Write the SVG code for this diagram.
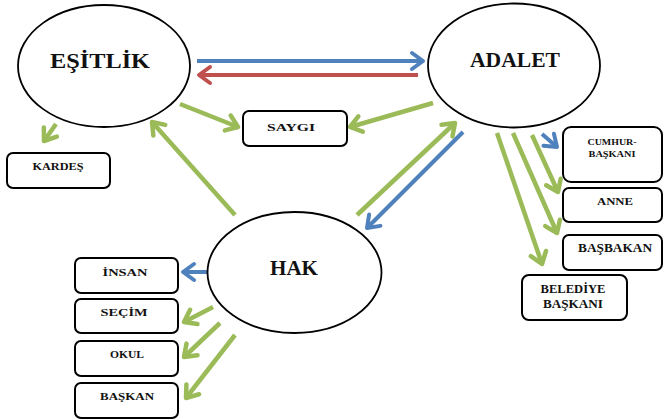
<svg xmlns="http://www.w3.org/2000/svg" width="663" height="420" viewBox="0 0 663 420">
<style>
.ell{fill:#fff;stroke:#000;stroke-width:1.8}
.box{fill:#fff;stroke:#000;stroke-width:2}
text{font-family:'Liberation Serif','Times New Roman',serif;font-weight:bold;fill:#111}
.big{font-size:20px}
.lbl{font-size:10.5px}
.g{stroke:#9bbb59;stroke-width:4.5;fill:none;marker-end:url(#ag)}
.b{stroke:#4f81bd;stroke-width:4;fill:none;marker-end:url(#ab)}
.r{stroke:#c0504d;stroke-width:4;fill:none;marker-end:url(#ar)}
</style>
<defs>
<marker id="ag" viewBox="-15 -11 18 22" refX="0" refY="0" markerWidth="18" markerHeight="22" markerUnits="userSpaceOnUse" orient="auto" overflow="visible"><path d="M-11,-8 L0,0 L-11,8" fill="none" stroke="#9bbb59" stroke-width="4.5" stroke-linecap="round" stroke-linejoin="round"/></marker>
<marker id="ab" viewBox="-15 -11 18 22" refX="0" refY="0" markerWidth="18" markerHeight="22" markerUnits="userSpaceOnUse" orient="auto" overflow="visible"><path d="M-11,-8 L0,0 L-11,8" fill="none" stroke="#4f81bd" stroke-width="4" stroke-linecap="round" stroke-linejoin="round"/></marker>
<marker id="ar" viewBox="-15 -11 18 22" refX="0" refY="0" markerWidth="18" markerHeight="22" markerUnits="userSpaceOnUse" orient="auto" overflow="visible"><path d="M-11,-8 L0,0 L-11,8" fill="none" stroke="#c0504d" stroke-width="4" stroke-linecap="round" stroke-linejoin="round"/></marker>
</defs>
<rect width="663" height="420" fill="#fff"/>

<g id="connectors">
<line class="b" x1="197" y1="61" x2="423" y2="61"/>
<line class="r" x1="418" y1="75" x2="199" y2="75"/>
<line class="g" x1="180" y1="104" x2="238" y2="127"/>
<line class="g" x1="56" y1="124" x2="44" y2="141"/>
<line class="g" x1="235" y1="215" x2="152" y2="122"/>
<line class="g" x1="433" y1="103" x2="350" y2="127"/>
<line class="g" x1="357" y1="215" x2="455" y2="123"/>
<line class="b" x1="463" y1="132" x2="367" y2="228"/>
<line class="b" x1="542" y1="134" x2="557" y2="147"/>
<line class="g" x1="532" y1="135" x2="558" y2="192"/>
<line class="g" x1="513" y1="133" x2="557" y2="233"/>
<line class="g" x1="497" y1="133" x2="542" y2="264"/>
<line class="b" x1="207" y1="272" x2="183" y2="272"/>
<line class="g" x1="213" y1="307" x2="184" y2="322"/>
<line class="g" x1="220" y1="323" x2="184" y2="357"/>
<line class="g" x1="235" y1="335" x2="186" y2="398"/>
</g>

<g id="esitlik"><ellipse class="ell" cx="104" cy="66" rx="86" ry="61"/><text class="big" x="100" y="68" text-anchor="middle" textLength="100" lengthAdjust="spacingAndGlyphs">EŞİTLİK</text></g>
<g id="adalet"><ellipse class="ell" cx="514" cy="65.5" rx="86" ry="62"/><text class="big" x="515" y="67" text-anchor="middle" textLength="90" lengthAdjust="spacingAndGlyphs">ADALET</text></g>
<g id="hak"><ellipse class="ell" cx="294.5" cy="272.5" rx="87" ry="60.5"/><text class="big" x="294" y="275" text-anchor="middle" textLength="48" lengthAdjust="spacingAndGlyphs">HAK</text></g>

<g id="kardes"><rect class="box" x="7" y="153" width="103" height="35" rx="6"/><text class="lbl" x="58" y="170" text-anchor="middle" textLength="51" lengthAdjust="spacingAndGlyphs">KARDEŞ</text></g>
<g id="saygi"><rect class="box" x="243" y="111" width="104" height="35" rx="6"/><text class="lbl" x="291" y="131" text-anchor="middle" textLength="48" lengthAdjust="spacingAndGlyphs">SAYGI</text></g>
<g id="cumhurbaskani"><rect class="box" x="563" y="127" width="99" height="55" rx="8"/><text class="lbl" style="font-size:8px" x="612" y="145" text-anchor="middle" textLength="49" lengthAdjust="spacingAndGlyphs">CUMHUR-</text><text class="lbl" style="font-size:8px" x="612" y="157" text-anchor="middle" textLength="47" lengthAdjust="spacingAndGlyphs">BAŞKANI</text></g>
<g id="anne"><rect class="box" x="563" y="188" width="99" height="34" rx="6"/><text class="lbl" style="font-size:11px" x="615" y="205" text-anchor="middle" textLength="36" lengthAdjust="spacingAndGlyphs">ANNE</text></g>
<g id="basbakan"><rect class="box" x="563" y="235" width="99" height="35" rx="6"/><text class="lbl" style="font-size:12px" x="615" y="252" text-anchor="middle" textLength="74" lengthAdjust="spacingAndGlyphs">BAŞBAKAN</text></g>
<g id="belediyebaskani"><rect class="box" x="522" y="275" width="105" height="45" rx="7"/><text class="lbl" style="font-size:12px" x="573" y="293" text-anchor="middle" textLength="65" lengthAdjust="spacingAndGlyphs">BELEDİYE</text><text class="lbl" style="font-size:12px" x="573" y="308" text-anchor="middle" textLength="60" lengthAdjust="spacingAndGlyphs">BAŞKANI</text></g>

<g id="insan"><rect class="box" x="75" y="258" width="103" height="35" rx="6"/><text class="lbl" x="125" y="276" text-anchor="middle" textLength="45" lengthAdjust="spacingAndGlyphs">İNSAN</text></g>
<g id="secim"><rect class="box" x="75" y="299" width="103" height="34" rx="6"/><text class="lbl" x="124" y="316" text-anchor="middle" textLength="47" lengthAdjust="spacingAndGlyphs">SEÇİM</text></g>
<g id="okul"><rect class="box" x="75" y="341" width="103" height="35" rx="6"/><text class="lbl" x="127" y="358" text-anchor="middle" textLength="34" lengthAdjust="spacingAndGlyphs">OKUL</text></g>
<g id="baskan"><rect class="box" x="75" y="383" width="103" height="35" rx="6"/><text class="lbl" x="127" y="400" text-anchor="middle" textLength="54" lengthAdjust="spacingAndGlyphs">BAŞKAN</text></g>
</svg>
